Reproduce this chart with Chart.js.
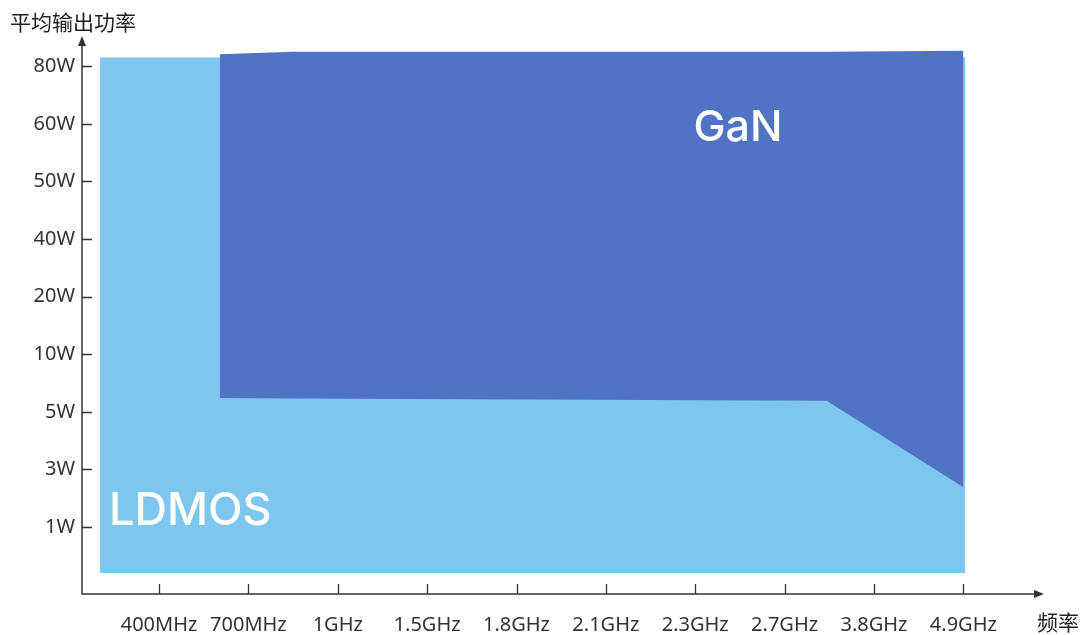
<!DOCTYPE html>
<html>
<head>
<meta charset="utf-8">
<script src="https://cdn.jsdelivr.net/npm/chart.js@4.4.0/dist/chart.umd.min.js"></script>
<style>
  html, body { margin: 0; padding: 0; background: #fff; }
  #chart { display: block; }
</style>
</head>
<body>
<canvas id="chart" width="1080" height="635"></canvas>
<script>
// tick labels, placed at index positions 0..n-1 on each axis
const freqLabels = ['400MHz', '700MHz', '1GHz', '1.5GHz', '1.8GHz', '2.1GHz', '2.3GHz', '2.7GHz', '3.8GHz', '4.9GHz'];
const powerLabels = ['1W', '3W', '5W', '10W', '20W', '40W', '50W', '60W', '80W'];

// LDMOS region (x and y in tick-index units)
const ldmosX = [-0.66, 9.02];
const ldmosTop = [8.15, 8.15];
const ldmosFloor = -0.8;

// GaN region: upper and lower edges
const ganX = [0.68, 1.5, 7.47, 9];
const ganTop = [8.21, 8.25, 8.25, 8.27];
const ganBottom = [2.24, 2.23, 2.19, 0.69];

const LDMOS_COLOR = '#7DC6EE';
const GAN_COLOR = '#5173C3';
const AXIS_COLOR = '#333333';
const TICK_FONT = { family: '"Noto Sans", "Noto Sans CJK SC", sans-serif', size: 20 };

const toPoints = (xs, ys) => xs.map((x, i) => ({ x: x, y: ys[i] }));

// axes with arrow heads and inward tick marks, plus the axis titles
const axisPlugin = {
  id: 'arrowAxes',
  afterDraw(chart) {
    const { ctx, chartArea } = chart;
    const xs = chart.scales.x;
    const ys = chart.scales.y;
    const left = chartArea.left;
    const bottom = chartArea.bottom;
    ctx.save();
    ctx.strokeStyle = AXIS_COLOR;
    ctx.fillStyle = AXIS_COLOR;
    ctx.lineWidth = 1.5;

    ctx.beginPath();
    ctx.moveTo(left, chartArea.top + 6);
    ctx.lineTo(left, bottom);
    ctx.lineTo(chartArea.right - 6, bottom);
    ctx.stroke();

    // arrow heads
    ctx.beginPath();
    ctx.moveTo(left, chartArea.top - 2);
    ctx.lineTo(left - 4, chartArea.top + 8);
    ctx.lineTo(left + 4, chartArea.top + 8);
    ctx.closePath();
    ctx.fill();
    ctx.beginPath();
    ctx.moveTo(chartArea.right + 2, bottom);
    ctx.lineTo(chartArea.right - 8, bottom - 4);
    ctx.lineTo(chartArea.right - 8, bottom + 4);
    ctx.closePath();
    ctx.fill();

    // tick marks point into the plot
    ctx.lineWidth = 1.3;
    ctx.beginPath();
    freqLabels.forEach((_, i) => {
      const px = Math.round(xs.getPixelForValue(i)) + 0.5;
      ctx.moveTo(px, bottom);
      ctx.lineTo(px, bottom - 10);
    });
    powerLabels.forEach((_, i) => {
      const py = Math.round(ys.getPixelForValue(i)) + 0.5;
      ctx.moveTo(left, py);
      ctx.lineTo(left + 10, py);
    });
    ctx.stroke();

    ctx.fillStyle = '#222';
    ctx.font = '21px "Noto Sans CJK SC", sans-serif';
    ctx.textBaseline = 'middle';
    ctx.textAlign = 'left';
    ctx.fillText('平均输出功率', 10, 22);
    ctx.fillText('频率', 1037, 622);
    ctx.restore();
  }
};

// region names written inside the filled areas
const regionLabels = {
  id: 'regionLabels',
  afterDatasetsDraw(chart) {
    const { ctx } = chart;
    const xs = chart.scales.x;
    const ys = chart.scales.y;
    ctx.save();
    ctx.fillStyle = '#ffffff';
    ctx.textBaseline = 'middle';
    ctx.textAlign = 'left';
    ctx.font = '500 43px Inter, "Liberation Sans", sans-serif';
    ctx.fillText('GaN', xs.getPixelForValue(5.98), ys.getPixelForValue(6.93));
    ctx.font = '500 45px Inter, "Liberation Sans", sans-serif';
    ctx.fillText('LDMOS', xs.getPixelForValue(-0.56), ys.getPixelForValue(0.27));
    ctx.restore();
  }
};

const ctx = document.getElementById('chart').getContext('2d');
new Chart(ctx, {
  type: 'line',
  data: {
    datasets: [
      {
        label: 'GaN',
        data: toPoints(ganX, ganTop),
        borderWidth: 0,
        pointRadius: 0,
        backgroundColor: GAN_COLOR,
        fill: '+1',
        tension: 0,
      },
      {
        label: 'GaN lower edge',
        data: toPoints(ganX, ganBottom),
        borderWidth: 0,
        pointRadius: 0,
        fill: false,
        tension: 0,
      },
      {
        label: 'LDMOS',
        data: toPoints(ldmosX, ldmosTop),
        borderWidth: 0,
        pointRadius: 0,
        backgroundColor: LDMOS_COLOR,
        fill: { value: ldmosFloor },
        tension: 0,
      },
    ],
  },
  options: {
    responsive: false,
    animation: false,
    layout: { padding: { top: 38, right: 38, bottom: 0, left: 0 } },
    plugins: {
      legend: { display: false },
      tooltip: { enabled: false },
    },
    scales: {
      x: {
        type: 'linear',
        min: -0.862,
        max: 9.88,
        grid: { display: false, drawTicks: false },
        border: { display: false },
        afterBuildTicks: (scale) => {
          scale.ticks = freqLabels.map((_, i) => ({ value: i }));
        },
        afterFit: (scale) => {
          scale.height = 41;
        },
        ticks: {
          autoSkip: false,
          maxRotation: 0,
          padding: 19,
          color: '#333',
          font: TICK_FONT,
          callback: (v) => freqLabels[v],
        },
      },
      y: {
        type: 'linear',
        min: -1.163,
        max: 8.49,
        grid: { display: false, drawTicks: false },
        border: { display: false },
        afterBuildTicks: (scale) => {
          scale.ticks = powerLabels.map((_, i) => ({ value: i }));
        },
        afterFit: (scale) => {
          scale.width = 82;
        },
        ticks: {
          padding: 7,
          color: '#333',
          font: TICK_FONT,
          callback: (v) => powerLabels[v],
        },
      },
    },
  },
  plugins: [axisPlugin, regionLabels],
});
</script>
</body>
</html>
